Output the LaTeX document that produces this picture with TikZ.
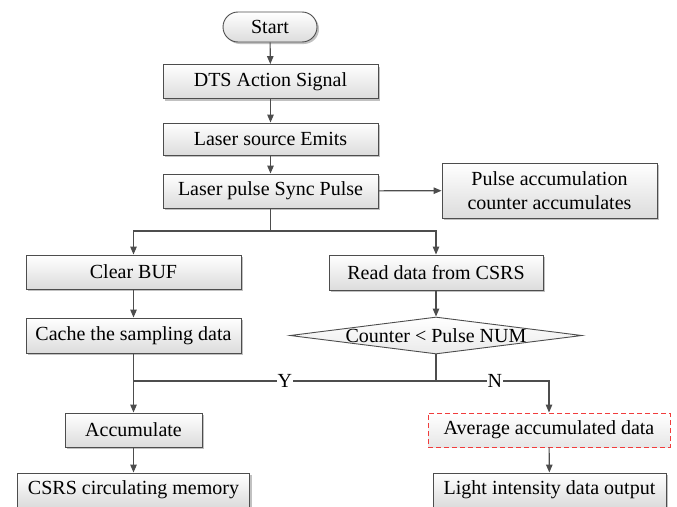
\documentclass[tikz,border=0pt]{standalone}
\usepackage{fontspec}
\setmainfont{Liberation Serif}
\usetikzlibrary{arrows.meta,shapes.geometric,shadows}
\definecolor{linegray}{HTML}{4D4D4D}
\definecolor{boxgray}{HTML}{DCDCDC}
\definecolor{dashred}{HTML}{F03C3C}
\begin{document}
\begin{tikzpicture}[x=1pt,y=-1pt,
  txt/.style={font=\fontsize{20}{24}\selectfont},
  box/.style={txt,draw=linegray,line width=0.9pt,top color=white,bottom color=boxgray,
    inner sep=0pt,minimum height=34pt,
    drop shadow={shadow xshift=2pt,shadow yshift=-2pt,fill=black!35,opacity=0.7}},
  termbox/.style={box,rounded corners=15pt,minimum height=30pt},
  markbox/.style={txt,draw=dashred,line width=0.9pt,dash pattern=on 5pt off 3pt,
    top color=white,bottom color=boxgray!70,inner sep=0pt,minimum height=34pt},
  decbox/.style={diamond,draw=linegray,line width=0.9pt,top color=white,bottom color=boxgray!60,
    inner sep=0pt,minimum width=292pt,minimum height=37pt},
  flow/.style={draw=linegray,line width=1.1pt},
  arr/.style={flow,-{Triangle[length=8pt,width=6.5pt]}},
  tag/.style={txt,fill=white,inner sep=1pt}]
\useasboundingbox (0,0) rectangle (677,506);

% main column
\node[termbox,minimum width=94pt] (start) at (270,27) {Start};
\node[box,minimum width=215pt] (dts) at (270.5,81.5) {DTS Action Signal};
\node[box,minimum width=215pt,minimum height=32pt] (laser) at (270.5,139) {Laser source Emits};
\node[box,minimum width=215pt] (sync) at (270.5,191) {Laser pulse Sync Pulse};
\node[box,minimum width=215pt,minimum height=55pt,align=center] (counter) at (549.5,190.5)
  {Pulse accumulation\\counter accumulates};

% left branch
\node[box,minimum width=215pt] (clear) at (133.5,272) {Clear BUF};
\node[box,minimum width=215pt,minimum height=35pt] (cache) at (133.5,335.5) {Cache the sampling data};
\node[box,minimum width=137pt] (accum) at (133.5,430) {Accumulate};
\node[box,minimum width=232pt] (mem) at (133.5,490) {CSRS circulating memory};

% right branch
\node[box,minimum width=214pt,minimum height=35pt] (read) at (436,272.5) {Read data from CSRS};
\node[decbox,label={[txt]center:Counter < Pulse NUM}] (dec) at (436,335.5) {};
\node[markbox,minimum width=242pt] (avg) at (549,430) {Average accumulated data};
\node[box,minimum width=233pt] (out) at (549.5,490) {Light intensity data output};

% junction points
\coordinate (split) at (270.5,231);
\coordinate (merge) at (436,381);

% connectors
\draw[arr] (start) -- (dts);
\draw[arr] (dts) -- (laser);
\draw[arr] (laser) -- (sync);
\draw[arr] (sync) -- (counter);
\draw[flow] (sync.south) -- (split);
\draw[arr] (split) -| (clear.north);
\draw[arr] (split) -| (read.north);
\draw[arr] (clear) -- (cache);
\draw[arr] (read) -- (dec);
\draw[arr] (cache.south) -- (accum.north);
\draw[flow] (dec.south) -- (merge);
\draw[flow] (merge) -- node[tag,pos=0.5] {Y} (merge -| cache.south);
\draw[arr] (merge) -- node[tag,pos=0.52] {N} (merge -| avg.north) -- (avg.north);
\draw[arr] (accum) -- (mem);
\draw[arr] (avg) -- (out);
\end{tikzpicture}
\end{document}
